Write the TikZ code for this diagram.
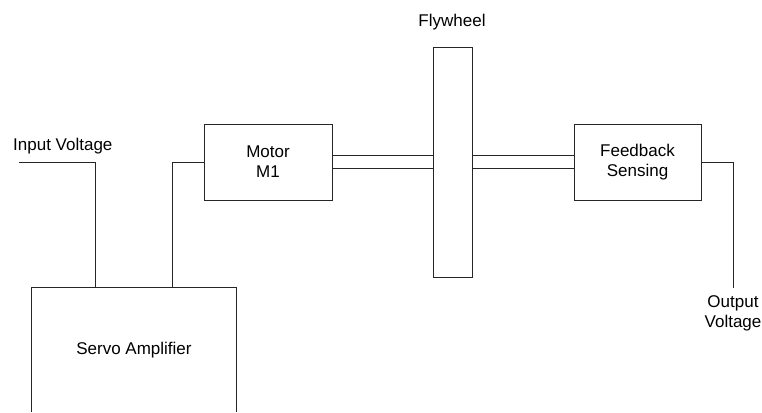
\documentclass[tikz,border=0pt]{standalone}
\usepackage{fontspec}
\setmainfont{Liberation Sans}
\begin{document}
\begin{tikzpicture}[x=1pt,y=-1pt,
  line/.style={draw=black!85,line width=0.9pt},
  lbl/.style={font=\fontsize{17}{20}\selectfont,inner sep=0pt,align=center},
  blk/.style={line,rectangle,inner sep=0pt,font=\fontsize{17}{20}\selectfont,align=center}]
\useasboundingbox (0,0) rectangle (762,412);
% blocks
\node[blk,minimum width=128pt,minimum height=76pt] (motor) at (268,162) {Motor\\M1};
\node[blk,minimum width=127pt,minimum height=76pt] (fb) at (637.5,162) {Feedback\\Sensing};
\node[blk,minimum width=39pt,minimum height=230pt] (fly) at (452.5,162) {};
\node[lbl] (flylbl) at (452,22) {Flywheel};
% servo amplifier (open bottom)
\node[lbl,minimum width=204pt,minimum height=124pt] (amp) at (134,350) {Servo Amplifier};
\draw[line] (amp.south west) -- (amp.north west) -- (amp.north east) -- (amp.south east);
\coordinate (ampin) at (95,288);
\coordinate (ampout) at (172,288);
% input
\node[lbl,anchor=west] (inlbl) at (13,146) {Input Voltage};
\coordinate (inend) at (19,162);
\draw[line] (inend) -| (ampin);
% amplifier to motor
\draw[line] (ampout) |- (motor.west);
% shafts
\draw[line] (motor.east |- 0,155.5) -- (fly.west |- 0,155.5);
\draw[line] (motor.east |- 0,168.5) -- (fly.west |- 0,168.5);
\draw[line] (fly.east |- 0,155.5) -- (fb.west |- 0,155.5);
\draw[line] (fly.east |- 0,168.5) -- (fb.west |- 0,168.5);
% output
\node[lbl] (outlbl) at (733,313) {Output\\Voltage};
\coordinate (outend) at (733,288);
\draw[line] (fb.east) -| (outend);
\end{tikzpicture}
\end{document}
